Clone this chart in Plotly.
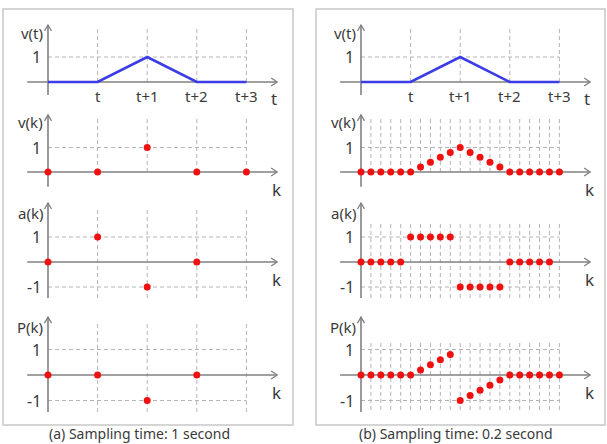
import plotly.graph_objects as go

W, H = 607, 444

# ---------------- data ----------------
t_knots = [0, 1, 2, 3, 4]
v_t = [0, 0, 1, 0, 0]
t_tick_vals = [1, 2, 3, 4]
t_tick_text = ["t", "t+1", "t+2", "t+3"]

Ts_a = 1.0
v_k_a = [0, 0, 1, 0, 0]
a_k_a = [0, 1, -1, 0]
P_k_a = [0, 0, -1, 0]

Ts_b = 0.2
v_k_b = [0, 0, 0, 0, 0, 0, 0.2, 0.4, 0.6, 0.8, 1.0, 0.8, 0.6, 0.4, 0.2, 0, 0, 0, 0, 0, 0]
a_k_b = [0, 0, 0, 0, 0, 1, 1, 1, 1, 1, -1, -1, -1, -1, -1, 0, 0, 0, 0, 0]
P_k_b = [0, 0, 0, 0, 0, 0, 0.2, 0.4, 0.6, 0.8, -1, -0.8, -0.6, -0.4, -0.2, 0, 0, 0, 0, 0, 0]

row_labels = ["v(t)", "v(k)", "a(k)", "P(k)"]
x_names = ["t", "k", "k", "k"]
captions = ["(a) Sampling time: 1 second", "(b) Sampling time: 0.2 second"]

panels = [
    dict(Ts=Ts_a, series=[v_k_a, a_k_a, P_k_a]),
    dict(Ts=Ts_b, series=[v_k_b, a_k_b, P_k_b]),
]

# ---------------- geometry / style ----------------
UX = 49.6
origin_px = [48, 361]
panel_dom_px = [(5, 290), (318, 603)]
rows = [
    dict(base=82, unit=25.0, top=12, bot=106, ylev=[1], vtop=[2.12, 2.12], vbot=[0, 0],
         ax_top=2.28, ax_bot=-0.52, lab_y=1.96),
    dict(base=172, unit=24.5, top=107, bot=196, ylev=[1], vtop=[2.25, 2.2], vbot=[0, 0],
         ax_top=2.33, ax_bot=-0.6, lab_y=2.04),
    dict(base=262, unit=25.0, top=197, bot=306, ylev=[1, -1], vtop=[2.16, 1.56], vbot=[-1.44, -1.44],
         ax_top=2.36, ax_bot=-1.44, lab_y=1.96),
    dict(base=375, unit=25.5, top=308, bot=420, ylev=[1, -1], vtop=[2.08, 1.37], vbot=[-1.45, -1.37],
         ax_top=2.27, ax_bot=-1.45, lab_y=1.88),
]
FONT = "Noto Sans"
TXT = "#3a3a3a"
AXC = "#808080"
GRC = "#b4b4b4"
RED = "#f01010"
BLUE = "#3c3ce6"

fig = go.Figure()
shapes = []
annos = []
layout_axes = {}

def line(xr, yr, x0, y0, x1, y1, color, width, dash=None):
    d = dict(type="line", xref=xr, yref=yr, x0=x0, y0=y0, x1=x1, y1=y1,
             line=dict(color=color, width=width), layer="below")
    if dash:
        d["line"]["dash"] = dash
    shapes.append(d)

for p in range(2):
    P = panels[p]
    dx0, dx1 = panel_dom_px[p]
    o = origin_px[p]
    # panel frame
    shapes.append(dict(type="rect", xref="paper", yref="paper",
                       x0=(3 if p == 0 else 316) / W, x1=(293 if p == 0 else 605) / W,
                       y0=1 - 425 / H, y1=1 - 9 / H,
                       line=dict(color="#c8c8c8", width=1.5), layer="below"))
    annos.append(dict(xref="paper", yref="paper", x=(139 if p == 0 else 456) / W,
                      y=0, yanchor="bottom", xanchor="center", showarrow=False, borderpad=0,
                      text=captions[p], font=dict(family=FONT, size=14, color=TXT)))
    for r in range(4):
        R = rows[r]
        idx = p * 4 + r + 1
        xa = "x" if idx == 1 else f"x{idx}"
        ya = "y" if idx == 1 else f"y{idx}"
        xk = "xaxis" if idx == 1 else f"xaxis{idx}"
        yk = "yaxis" if idx == 1 else f"yaxis{idx}"
        layout_axes[xk] = dict(domain=[dx0 / W, dx1 / W], range=[(dx0 - o) / UX, (dx1 - o) / UX],
                               visible=False, anchor=ya, fixedrange=True)
        layout_axes[yk] = dict(domain=[1 - R["bot"] / H, 1 - R["top"] / H],
                               range=[(R["base"] - R["bot"]) / R["unit"], (R["base"] - R["top"]) / R["unit"]],
                               visible=False, anchor=xa, fixedrange=True)
        # grid
        if r == 0 or p == 0:
            vx = t_tick_vals
        else:
            vx = [k * P["Ts"] for k in range(1, len(v_k_b))]
        for x in vx:
            line(xa, ya, x, R["vbot"][p], x, R["vtop"][p], GRC, 1, "4px,3px")
        for yl in R["ylev"]:
            line(xa, ya, 0, yl, 4, yl, GRC, 1, "4px,3px")
        # axes
        line(xa, ya, -0.42, 0, 4.62, 0, AXC, 1.6)
        line(xa, ya, 0, R["ax_bot"], 0, R["ax_top"], AXC, 1.6)
        shapes.append(dict(type="path", xref=xa, yref=ya, xsizemode="pixel", ysizemode="pixel",
                           xanchor=4.62, yanchor=0, path="M-6,-4 L0,0 L-6,4",
                           line=dict(color=AXC, width=1.3)))
        shapes.append(dict(type="path", xref=xa, yref=ya, xsizemode="pixel", ysizemode="pixel",
                           xanchor=0, yanchor=R["ax_top"], path="M-3.5,-6 L0,0 L3.5,-6",
                           line=dict(color=AXC, width=1.3)))
        # labels
        annos.append(dict(xref=xa, yref=ya, x=0, y=R["lab_y"], xanchor="right", yanchor="middle",
                          xshift=-3, showarrow=False, text=row_labels[r],
                          font=dict(family=FONT, size=15, color=TXT)))
        for yl in R["ylev"]:
            annos.append(dict(xref=xa, yref=ya, x=0, y=yl, xanchor="right", yanchor="middle",
                              xshift=-5, showarrow=False, text=str(yl),
                              font=dict(family=FONT, size=16, color=TXT)))
        annos.append(dict(xref=xa, yref=ya, x=4.6 if r else 4.55, y=0, xanchor="center", yanchor="middle",
                          yshift=-17, showarrow=False, text=x_names[r],
                          font=dict(family=FONT, size=17, color=TXT)))
        if r == 0:
            for tv, tt in zip(t_tick_vals, t_tick_text):
                annos.append(dict(xref=xa, yref=ya, x=tv, y=0, xanchor="center", yanchor="middle",
                                  yshift=-14, showarrow=False, text=tt,
                                  font=dict(family=FONT, size=15, color=TXT)))
            fig.add_trace(go.Scatter(x=t_knots, y=v_t, mode="lines", xaxis=xa, yaxis=ya,
                                     line=dict(color=BLUE, width=2.6), showlegend=False,
                                     hoverinfo="skip"))
        else:
            vals = P["series"][r - 1]
            xs = [k * P["Ts"] for k in range(len(vals))]
            fig.add_trace(go.Scatter(x=xs, y=vals, mode="markers", xaxis=xa, yaxis=ya,
                                     marker=dict(color=RED, size=7, line=dict(width=0)),
                                     showlegend=False, cliponaxis=False, hoverinfo="skip"))

fig.update_layout(width=W, height=H, margin=dict(l=0, r=0, t=0, b=0),
                  paper_bgcolor="white", plot_bgcolor="white",
                  shapes=shapes, annotations=annos, **layout_axes)
fig.write_html("out.html")
